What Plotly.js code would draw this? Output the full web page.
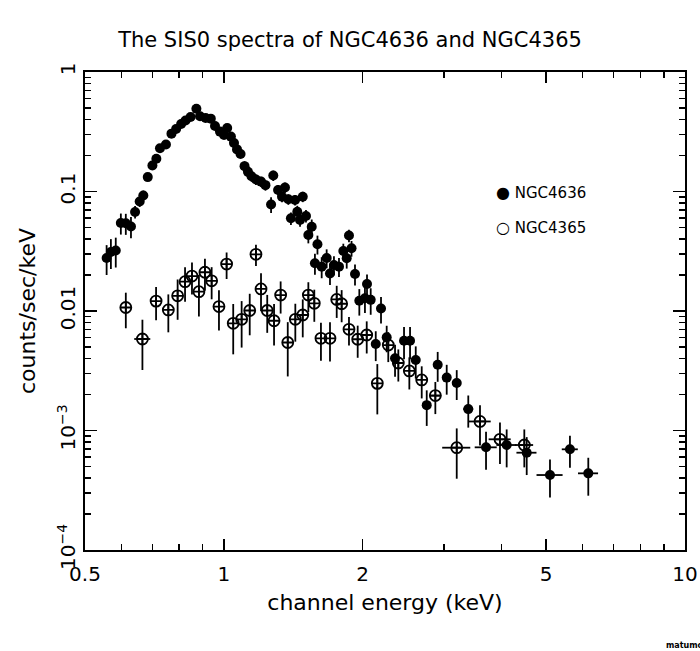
<!DOCTYPE html>
<html>
<head>
<meta charset="utf-8">
<script src="https://cdn.plot.ly/plotly-3.0.1.min.js"></script>
<style>html,body{margin:0;padding:0;background:#fff;}#chart{width:700px;height:651px;}</style>
</head>
<body>
<div id="chart"></div>
<script>
// NGC4636 (filled circles): channel energy (keV), counts/sec/keV, relative errors
const ngc4636Energy = [0.557,0.569,0.583,0.598,0.613,0.629,0.642,0.657,0.669,0.684,0.700,0.714,0.727,0.749,0.770,0.788,0.808,0.826,0.847,0.872,0.888,0.913,0.937,0.957,0.981,1.001,1.017,1.036,1.052,1.068,1.087,1.109,1.128,1.148,1.174,1.204,1.231,1.266,1.280,1.311,1.337,1.357,1.380,1.398,1.427,1.443,1.463,1.483,1.507,1.525,1.551,1.576,1.596,1.630,1.671,1.699,1.733,1.777,1.816,1.847,1.868,1.892,1.925,1.967,2.023,2.044,2.082,2.192,2.135,2.255,2.351,2.459,2.534,2.607,2.754,2.909,3.043,3.199,3.389,3.703,4.105,4.537,5.096,5.63,6.17];
const ngc4636Rate = [0.0278,0.0312,0.0321,0.0545,0.0542,0.0509,0.0674,0.0825,0.0926,0.132,0.165,0.188,0.230,0.247,0.305,0.333,0.367,0.393,0.420,0.493,0.426,0.412,0.407,0.353,0.317,0.297,0.340,0.288,0.255,0.225,0.206,0.163,0.146,0.134,0.126,0.121,0.113,0.0778,0.136,0.103,0.0905,0.108,0.086,0.0597,0.0849,0.0678,0.0577,0.0905,0.0624,0.0433,0.0507,0.0251,0.0362,0.0235,0.0278,0.0206,0.0243,0.0235,0.0318,0.0276,0.0428,0.0335,0.0204,0.0122,0.0128,0.0168,0.0124,0.0105,0.00529,0.00602,0.00402,0.00564,0.00564,0.00389,0.00163,0.00355,0.00277,0.0025,0.00151,0.000723,0.000756,0.000652,0.000424,0.000696,0.000438];
const ngc4636RelErrY = [0.28,0.28,0.28,0.2,0.2,0.2,0.12,0.1,0.1,0.06,0.06,0.06,0.06,0.06,0.06,0.06,0.06,0.06,0.06,0.06,0.06,0.06,0.06,0.06,0.06,0.06,0.06,0.06,0.06,0.06,0.06,0.1,0.1,0.1,0.1,0.1,0.1,0.15,0.1,0.1,0.1,0.1,0.1,0.12,0.1,0.12,0.12,0.1,0.12,0.15,0.15,0.2,0.18,0.2,0.18,0.2,0.18,0.18,0.15,0.18,0.12,0.15,0.2,0.25,0.25,0.2,0.25,0.25,0.28,0.25,0.3,0.3,0.3,0.3,0.33,0.28,0.28,0.28,0.3,0.35,0.35,0.35,0.35,0.3,0.35];
const ngc4636RelErrX = [0,0,0,0,0,0,0,0,0,0,0,0,0,0,0,0,0,0,0,0,0,0,0,0,0,0,0,0,0,0,0,0,0,0,0,0,0,0,0,0,0,0,0,0,0,0,0,0,0,0,0,0,0,0,0,0,0,0,0,0,0,0,0,0,0,0,0,0,0.02,0.02,0.02,0.02,0.02,0.02,0.02,0.02,0.02,0.02,0.025,0.055,0.05,0.05,0.065,0.04,0.05];

// NGC4365 (open circles)
const ngc4365Energy = [0.613,0.666,0.713,0.758,0.794,0.824,0.853,0.883,0.910,0.941,0.976,1.014,1.048,1.093,1.138,1.174,1.204,1.242,1.285,1.328,1.376,1.429,1.483,1.525,1.571,1.624,1.699,1.757,1.801,1.868,1.951,2.041,2.152,2.273,2.390,2.525,2.686,2.875,3.199,3.593,3.970,4.483];
const ngc4365Rate = [0.0107,0.00583,0.0121,0.0102,0.0134,0.0176,0.0196,0.0145,0.0211,0.0179,0.0109,0.0247,0.00789,0.00852,0.0101,0.0298,0.0153,0.0101,0.00829,0.0136,0.00545,0.00852,0.00926,0.0136,0.0116,0.00591,0.00591,0.0125,0.0115,0.00703,0.0058,0.0063,0.00248,0.00519,0.00367,0.00315,0.00265,0.00196,0.000718,0.00119,0.000844,0.000756];
const ngc4365RelErrY = [0.33,0.45,0.31,0.35,0.37,0.32,0.3,0.38,0.3,0.3,0.37,0.25,0.45,0.42,0.38,0.2,0.35,0.35,0.38,0.3,0.48,0.35,0.35,0.28,0.3,0.35,0.36,0.3,0.3,0.27,0.3,0.3,0.45,0.28,0.3,0.3,0.3,0.3,0.45,0.37,0.38,0.35];
const ngc4365RelErrX = [0,0.04,0,0,0,0,0,0,0,0,0,0,0,0,0,0,0,0,0,0,0,0,0,0,0,0,0,0,0,0,0,0,0,0,0,0,0,0.03,0.07,0.055,0.055,0.045];

// Axis ticks
const xTickVals = [0.5,1,2,5,10];
const xTickText = ['0.5','1','2','5','10'];
const xMinorVals = [0.6,0.7,0.8,0.9,3,4,6,7,8,9];
const yTickVals = [1e-4,1e-3,0.01,0.1,1];
const yTickText = ['10<sup>−4</sup>','10<sup>−3</sup>','0.01','0.1','1'];
const yMinorVals = [2e-4,3e-4,4e-4,5e-4,6e-4,7e-4,8e-4,9e-4,2e-3,3e-3,4e-3,5e-3,6e-3,7e-3,8e-3,9e-3,0.02,0.03,0.04,0.05,0.06,0.07,0.08,0.09,0.2,0.3,0.4,0.5,0.6,0.7,0.8,0.9];

const seriesNames = ['NGC4636','NGC4365'];
const xRange = [Math.log10(0.5), 1];
const yRange = [-4, 0];

const absErr = (vals, rel) => vals.map((v, i) => v * rel[i]);

const FONT = 'DejaVu Sans, Liberation Sans, sans-serif';

const traces = [
  {
    type: 'scatter', mode: 'markers', name: seriesNames[0],
    x: ngc4636Energy, y: ngc4636Rate,
    marker: {symbol: 'circle', size: 10, color: 'black'},
    error_y: {type: 'data', array: absErr(ngc4636Rate, ngc4636RelErrY), visible: true, color: 'black', thickness: 1.8, width: 0},
    error_x: {type: 'data', array: absErr(ngc4636Energy, ngc4636RelErrX), visible: true, color: 'black', thickness: 1.8, width: 0},
    showlegend: false
  },
  {
    type: 'scatter', mode: 'markers', name: seriesNames[1],
    x: ngc4365Energy, y: ngc4365Rate,
    marker: {symbol: 'circle-cross-open', size: 11, color: 'black', line: {width: 1.8, color: 'black'}},
    error_y: {type: 'data', array: absErr(ngc4365Rate, ngc4365RelErrY), visible: true, color: 'black', thickness: 1.8, width: 0},
    error_x: {type: 'data', array: absErr(ngc4365Energy, ngc4365RelErrX), visible: true, color: 'black', thickness: 1.8, width: 0},
    showlegend: false
  },
  // carrier for the minor-tick overlay axes
  {type: 'scatter', mode: 'markers', x: [null], y: [null], xaxis: 'x2', yaxis: 'y2', showlegend: false, hoverinfo: 'skip'}
];

const axisCommon = {
  type: 'log', showgrid: false, zeroline: false,
  showline: true, linecolor: 'black', linewidth: 1.6, mirror: 'ticks',
  ticks: 'inside', tickcolor: 'black'
};

const layout = {
  width: 700, height: 651,
  margin: {l: 85, r: 15, t: 72, b: 101},
  paper_bgcolor: 'white', plot_bgcolor: 'white',
  showlegend: false,
  title: {
    text: 'The SIS0 spectra of NGC4636 and NGC4365',
    x: 0.5, xanchor: 'center', xref: 'container',
    y: 1 - 40/651, yref: 'container', yanchor: 'middle',
    font: {family: FONT, size: 21, color: 'black'}
  },
  xaxis: Object.assign({}, axisCommon, {
    range: xRange,
    tickmode: 'array', tickvals: xTickVals, ticktext: xTickText,
    ticklen: 11, tickwidth: 1.5, ticklabelstandoff: 5,
    tickfont: {family: FONT, size: 20, color: 'black'},
    title: {text: 'channel energy (keV)', font: {family: FONT, size: 22, color: 'black'}, standoff: 10}
  }),
  yaxis: Object.assign({}, axisCommon, {
    range: yRange,
    tickmode: 'array', tickvals: yTickVals, ticktext: yTickText, tickangle: -90,
    ticklen: 12, tickwidth: 1.5, ticklabelstandoff: 0,
    tickfont: {family: FONT, size: 20, color: 'black'},
    title: {text: 'counts/sec/keV', font: {family: FONT, size: 22, color: 'black'}, standoff: 12}
  }),
  xaxis2: Object.assign({}, axisCommon, {
    range: xRange, overlaying: 'x', anchor: 'y2', side: 'bottom',
    tickmode: 'array', tickvals: xMinorVals, ticklen: 6, tickwidth: 1.3,
    showticklabels: false
  }),
  yaxis2: Object.assign({}, axisCommon, {
    range: yRange, overlaying: 'y', anchor: 'x2', side: 'left',
    tickmode: 'array', tickvals: yMinorVals, ticklen: 6, tickwidth: 1.3,
    showticklabels: false
  }),
  annotations: [
    {xref: 'paper', yref: 'paper', x: (494-85)/600, y: (550-192)/478, xanchor: 'left', yanchor: 'middle', showarrow: false,
     text: '<span style="font-size:16px">●</span> ' + seriesNames[0], font: {family: FONT, size: 15, color: 'black'}},
    {xref: 'paper', yref: 'paper', x: (494-85)/600, y: (550-228)/478, xanchor: 'left', yanchor: 'middle', showarrow: false,
     text: '<b><span style="font-size:16px">○</span></b> ' + seriesNames[1], font: {family: FONT, size: 15, color: 'black'}},
    {xref: 'paper', yref: 'paper', x: (664-85)/600, y: (550-645)/478, xanchor: 'left', yanchor: 'middle', showarrow: false,
     text: '<b>matumoto</b>', font: {family: FONT, size: 8, color: 'black'}}
  ]
};

Plotly.newPlot('chart', traces, layout, {displayModeBar: false, staticPlot: true});
</script>
</body>
</html>
